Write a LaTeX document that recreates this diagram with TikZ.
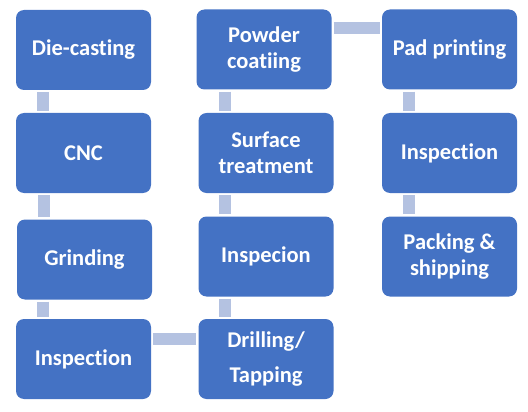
\documentclass[tikz,border=0pt]{standalone}
\usepackage{fontspec}
\setmainfont{Carlito}[Ligatures=NoCommon]
\usepackage{tikz}
\usetikzlibrary{calc,positioning}
\definecolor{boxblue}{RGB}{68,114,196}
\definecolor{barblue}{RGB}{180,194,225}

\begin{document}
\begin{tikzpicture}[x=1pt,y=-1pt]
\tikzstyle{proc}=[fill=boxblue, rounded corners=8pt, minimum width=135pt, minimum height=80pt, text=white, align=center, font=\fontsize{22.5}{26}\selectfont\bfseries, inner sep=2pt]
\tikzstyle{conn}=[draw=barblue, line width=12pt, shorten <=2pt, shorten >=2pt]
\useasboundingbox (0,0) rectangle (528,412);
\foreach \n/\x/\y/\t in {DC/83.5/50/{Die-casting}, CNC/83.5/153/{CNC}, GR/84.5/259.5/{Grinding}, INa/83.5/359/{Inspection},
  DT/266/359/{Drilling/\\[9pt]Tapping}, IS/266/256.5/{Inspecion}, ST/266/153/{Surface\\treatment}, PC/264/49.5/{Powder\\coatiing},
  PP/449.5/49.5/{Pad printing}, INb/449.5/153/{Inspection}, PS/449.5/256.5/{Packing \&\\shipping}}{
  \node[proc] (\n) at (\x,\y) {\t};}
% vertical bars, top box first
\foreach \a/\b in {DC/CNC, CNC/GR, GR/INa, PC/ST, ST/IS, IS/DT, PP/INb, INb/PS}{
  \draw[conn] ([xshift=27pt]\b.north west |- \a.south) -- ([xshift=27pt]\b.north west);}
% horizontal bars
\draw[conn] ([yshift=-20pt]INa.north east) -- ([yshift=-20pt]INa.north east -| DT.west);
\draw[conn] ([yshift=-19pt]PC.north east) -- ([yshift=-19pt]PC.north east -| PP.west);
\end{tikzpicture}
\end{document}
